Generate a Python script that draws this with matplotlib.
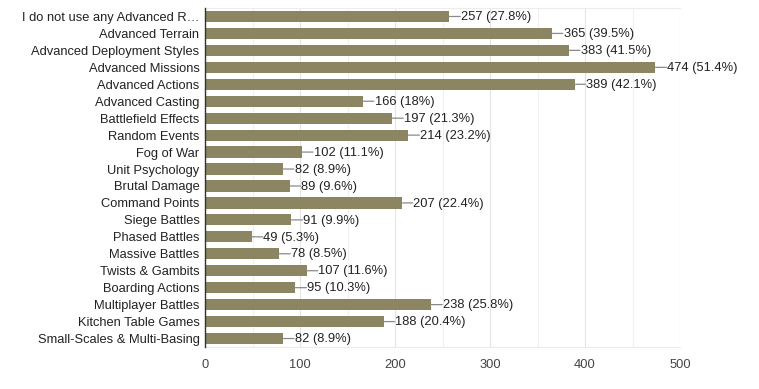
import numpy as np
import matplotlib.pyplot as plt
from matplotlib.ticker import MultipleLocator

plt.rcParams["font.family"] = ["Liberation Sans", "DejaVu Sans"]

categories = [
    "I do not use any Advanced R…", "Advanced Terrain", "Advanced Deployment Styles",
    "Advanced Missions", "Advanced Actions", "Advanced Casting", "Battlefield Effects",
    "Random Events", "Fog of War", "Unit Psychology", "Brutal Damage", "Command Points",
    "Siege Battles", "Phased Battles", "Massive Battles", "Twists & Gambits",
    "Boarding Actions", "Multiplayer Battles", "Kitchen Table Games",
    "Small-Scales & Multi-Basing",
]
counts = [257, 365, 383, 474, 389, 166, 197, 214, 102, 82, 89, 207, 91, 49, 78, 107, 95, 238, 188, 82]
percents = ["27.8", "39.5", "41.5", "51.4", "42.1", "18", "21.3", "23.2", "11.1", "8.9",
            "9.6", "22.4", "9.9", "5.3", "8.5", "11.6", "10.3", "25.8", "20.4", "8.9"]
xticks = [0, 100, 200, 300, 400, 500]

fig = plt.figure(figsize=(7.59, 3.89), dpi=100)
ax = fig.add_axes([205 / 759, 1 - 347 / 389, 475 / 759, 339 / 389])

y = np.arange(len(categories))
ax.barh(y, counts, height=0.66, color="#8c8562", zorder=3)

for yi, c, p in zip(y, counts, percents):
    ax.annotate("", xy=(c, yi), xytext=(8, 0), textcoords="offset points",
                arrowprops=dict(arrowstyle="-", color="#8a8a8a", lw=0.9,
                                shrinkA=0, shrinkB=0), zorder=4)
    ax.annotate("%d (%s%%)" % (c, p), xy=(c, yi), xytext=(8.5, -0.5),
                textcoords="offset points", ha="left", va="center",
                fontsize=9.3, color="#222222", zorder=5)

ax.set_ylim(len(categories) - 0.5, -0.5)
ax.set_xlim(0, 500)
ax.set_yticks(y)
ax.set_yticklabels(categories, fontsize=9.3, color="#222222")
ax.set_xticks(xticks)
ax.set_xticklabels([str(t) for t in xticks], fontsize=9.3, color="#444444")
ax.xaxis.set_minor_locator(MultipleLocator(50))

ax.grid(axis="x", which="major", color="#e4e4e4", lw=0.8, zorder=0)
ax.grid(axis="x", which="minor", color="#f0f0f0", lw=0.8, zorder=0)
ax.tick_params(axis="both", which="both", length=0)
ax.tick_params(axis="y", pad=4)
ax.tick_params(axis="x", pad=9)

for s in ["top", "bottom", "right"]:
    ax.spines[s].set_color("#ececec")
    ax.spines[s].set_linewidth(0.8)
ax.spines["right"].set_visible(False)
ax.spines["left"].set_color("#333333")
ax.spines["left"].set_linewidth(1.0)
ax.spines["left"].set_zorder(6)

fig.savefig("out.png", dpi=100)
